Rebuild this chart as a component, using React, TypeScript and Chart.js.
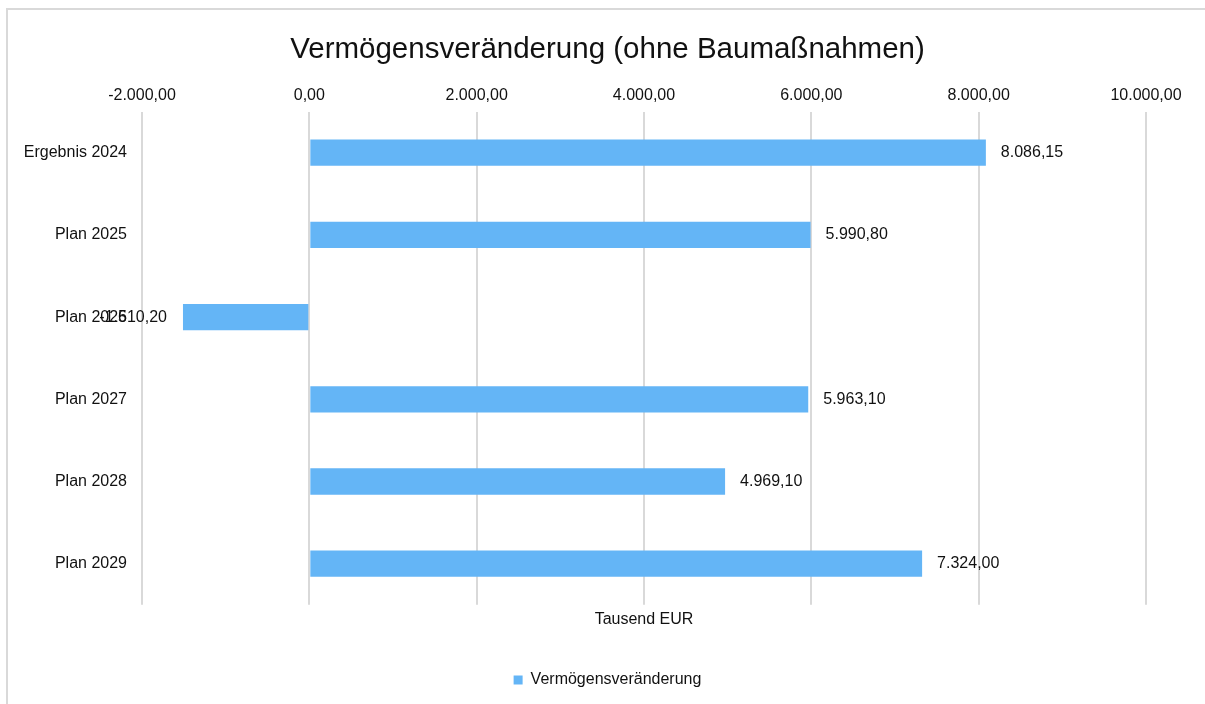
import React, { useEffect, useRef } from "react";
import { Chart, registerables } from "chart.js";

Chart.register(...registerables);

const categories = ["Ergebnis 2024", "Plan 2025", "Plan 2026", "Plan 2027", "Plan 2028", "Plan 2029"];
const values = [8086.15, 5990.8, -1510.2, 5963.1, 4969.1, 7324.0];
const seriesName = "Vermögensveränderung";
const titleText = "Vermögensveränderung (ohne Baumaßnahmen)";
const axisTitle = "Tausend EUR";
const xMin = -2000;
const xMax = 10000;
const xStep = 2000;

const FONT = "'Liberation Sans', Arial, sans-serif";
const TEXT = "#111111";
const BAR = "#64B5F6";
const GRID = "#d9d9d9";

function fmt(v: number): string {
  const neg = v < 0;
  const s = Math.abs(v).toFixed(2);
  const [i, d] = s.split(".");
  const withDots = i.replace(/\B(?=(\d{3})+(?!\d))/g, ".");
  return (neg ? "-" : "") + withDots + "," + d;
}

const dataLabels = {
  id: "dataLabels",
  afterDatasetsDraw(chart: any) {
    const { ctx } = chart;
    const meta = chart.getDatasetMeta(0);
    ctx.save();
    ctx.font = `16px ${FONT}`;
    ctx.fillStyle = TEXT;
    ctx.textBaseline = "middle";
    meta.data.forEach((bar: any, i: number) => {
      const v = values[i];
      if (v >= 0) {
        ctx.textAlign = "left";
        ctx.fillText(fmt(v), bar.x + 15, bar.y);
      } else {
        ctx.textAlign = "right";
        ctx.fillText(fmt(v), bar.x - 16, bar.y);
      }
    });
    ctx.restore();
  },
};

export default function App() {
  const ref = useRef<HTMLCanvasElement | null>(null);
  useEffect(() => {
    if (!ref.current) return;
    Chart.defaults.font.family = FONT;
    Chart.defaults.color = TEXT;
    const chart = new Chart(ref.current, {
      type: "bar",
      data: {
        labels: categories,
        datasets: [
          {
            label: seriesName,
            data: values,
            backgroundColor: BAR,
            borderWidth: 0,
            barPercentage: 0.32,
            categoryPercentage: 1,
          },
        ],
      },
      plugins: [dataLabels],
      options: {
        indexAxis: "y",
        responsive: false,
        animation: false,
        devicePixelRatio: 1,
        layout: { padding: { left: 10, right: 0, top: 0, bottom: 6 } },
        plugins: {
          title: {
            display: true,
            text: titleText,
            color: TEXT,
            font: { size: 29.5, weight: "normal", family: FONT },
            padding: { top: 32, bottom: 13 },
          },
          legend: {
            display: true,
            position: "bottom",
            labels: {
              boxWidth: 9,
              boxHeight: 9,
              color: TEXT,
              font: { size: 16, family: FONT },
              padding: 10,
            },
          },
          tooltip: { enabled: false },
        },
        scales: {
          x: {
            type: "linear",
            position: "top",
            min: xMin,
            max: xMax,
            grid: { color: GRID, lineWidth: 2, drawTicks: false },
            border: { display: false },
            ticks: {
              stepSize: xStep,
              padding: 6,
              color: TEXT,
              font: { size: 16, family: FONT },
              callback: (v: any) => fmt(Number(v)),
            },
          },
          x2: {
            type: "linear",
            position: "bottom",
            display: true,
            grid: { display: false, drawTicks: false },
            border: { display: false },
            ticks: { display: false },
            title: {
              display: true,
              text: axisTitle,
              color: TEXT,
              font: { size: 16, family: FONT },
              padding: { top: 5, bottom: 33 },
            },
          },
          y: {
            type: "category",
            position: "left",
            grid: { display: false, drawTicks: false },
            border: { display: false },
            ticks: { padding: 15, color: TEXT, font: { size: 16, family: FONT } },
            afterFit: (s: any) => {
              s.width = 132;
            },
          },
          yr: {
            type: "linear",
            position: "right",
            display: true,
            grid: { display: false, drawTicks: false },
            border: { display: false },
            ticks: { display: false },
            afterFit: (s: any) => {
              s.width = 59;
            },
          },
        },
      } as any,
    });
    return () => chart.destroy();
  }, []);
  return (
    <>
      <canvas
        ref={ref}
        width={1205}
        height={704}
        style={{ position: "fixed", left: 0, top: 0, width: 1205, height: 704 }}
      />
      <div
        style={{
          position: "fixed",
          left: 6,
          top: 8,
          width: 1205,
          height: 704,
          border: "2px solid #d9d9d9",
          boxSizing: "border-box",
          pointerEvents: "none",
        }}
      />
    </>
  );
}
